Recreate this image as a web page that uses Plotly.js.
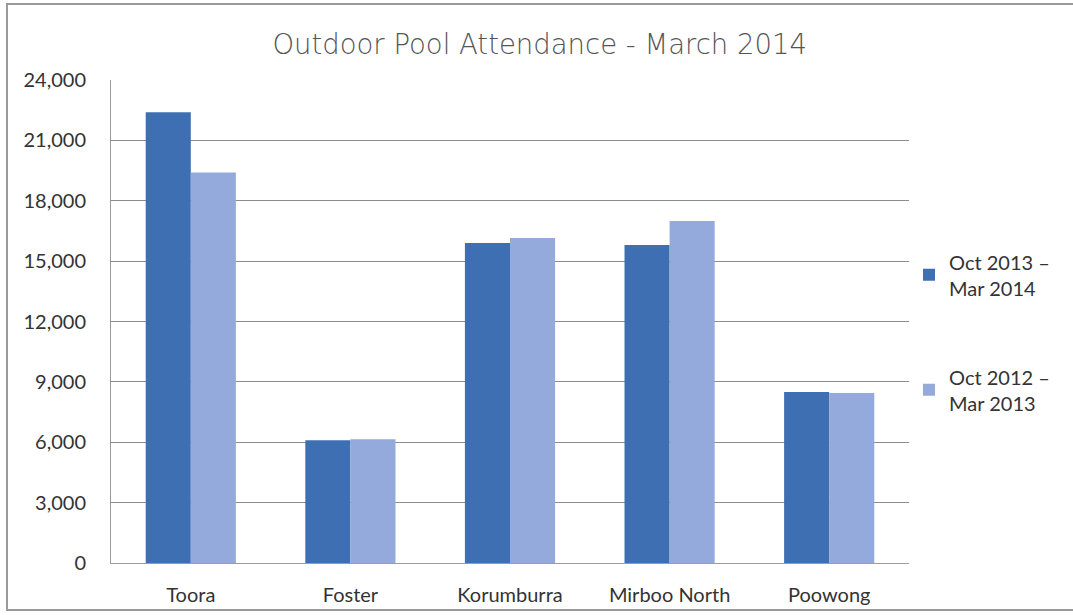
<!DOCTYPE html>
<html>
<head>
<meta charset="utf-8">
<script src="https://cdn.plot.ly/plotly-3.0.1.min.js"></script>
<style>
  html, body { margin: 0; padding: 0; background: #fff; }
  #wrap { position: relative; width: 1073px; height: 615px; overflow: hidden; }
  #frame { position: absolute; left: 6px; top: 3px; width: 1070px; height: 608px; border: 2px solid #9a9a9a; box-sizing: border-box; pointer-events: none; }
  #chart { position: absolute; left: 0; top: 0; width: 1073px; height: 615px; }
</style>
</head>
<body>
<div id="wrap">
  <div id="chart"></div>
  <div id="frame"></div>
</div>
<script>
const categories = ["Toora", "Foster", "Korumburra", "Mirboo North", "Poowong"];
const seriesNames = ["Oct 2013 –<br>Mar 2014", "Oct 2012 –<br>Mar 2013"];
const season2013_14 = [22400, 6100, 15900, 15800, 8500];
const season2012_13 = [19400, 6150, 16150, 17000, 8450];
const yTicks = [0, 3000, 6000, 9000, 12000, 15000, 18000, 21000, 24000];
const yTickLabels = ["0", "3,000", "6,000", "9,000", "12,000", "15,000", "18,000", "21,000", "24,000"];

const traces = [
  {type: "bar", name: seriesNames[0], x: categories, y: season2013_14, legendgroup: "a",
   marker: {color: "#3e6fb2", line: {width: 0}}},
  {type: "bar", name: seriesNames[1], x: categories, y: season2012_13, legendgroup: "b",
   marker: {color: "#94a9dc", line: {width: 0}}}
];

const layout = {
  width: 1073, height: 615,
  margin: {l: 111, r: 164, t: 80, b: 52},
  paper_bgcolor: "#ffffff", plot_bgcolor: "#ffffff",
  barmode: "group", bargap: 0.435, bargroupgap: 0,
  title: {text: "Outdoor Pool Attendance - March 2014", x: 0.503, xanchor: "center", y: 0.928, yanchor: "middle",
          font: {family: "DejaVu Sans", size: 27.5, color: "#555555", weight: 300}},
  font: {family: "Lato, 'Open Sans', sans-serif", size: 20, color: "#333333"},
  xaxis: {showgrid: false, showline: true, linecolor: "#9c9c9c", linewidth: 1, ticks: "",
          tickfont: {size: 20, color: "#333"}, ticklabelstandoff: 14},
  yaxis: {range: [0, 24000], tickvals: yTicks, ticktext: yTickLabels, showgrid: true, gridcolor: "#8c8c8c", gridwidth: 1,
          showline: true, linecolor: "#9c9c9c", linewidth: 1, zeroline: false, ticks: "",
          tickfont: {size: 20, color: "#333"}, ticklabelstandoff: 20},
  legend: {x: 1.0, xanchor: "left", y: 0.664, yanchor: "top", traceorder: "grouped", tracegroupgap: 60,
           font: {size: 20, color: "#333"}, itemwidth: 30, bgcolor: "rgba(0,0,0,0)"},
  showlegend: true
};

Plotly.newPlot("chart", traces, layout, {displayModeBar: false, staticPlot: true});
</script>
</body>
</html>
